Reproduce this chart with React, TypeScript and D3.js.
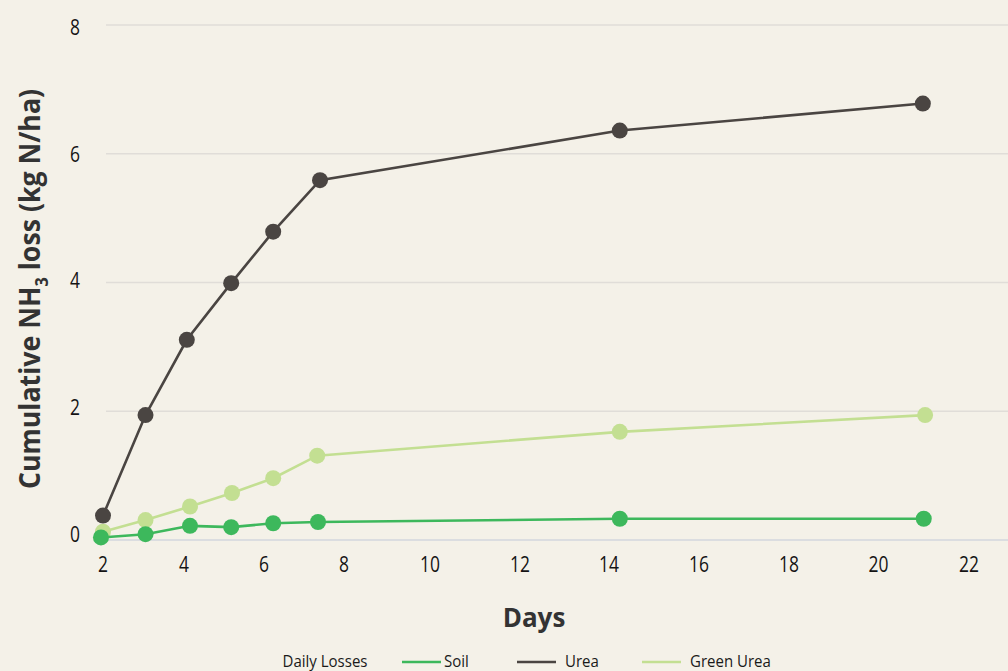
import React from "react";
import * as d3 from "d3";

const xTicks = [2, 4, 6, 8, 10, 12, 14, 16, 18, 20, 22];
const yTicks = [0, 2, 4, 6, 8];

const soilDays = [1.95, 3.05, 4.15, 5.18, 6.23, 7.35, 14.24, 21.0];
const soilLoss = [0.04, 0.09, 0.22, 0.2, 0.26, 0.28, 0.33, 0.33];

const ureaDays = [2.0, 3.05, 4.07, 5.18, 6.23, 7.4, 14.24, 20.98];
const ureaLoss = [0.38, 1.94, 3.11, 3.99, 4.79, 5.59, 6.36, 6.78];

const greenDays = [2.0, 3.05, 4.15, 5.2, 6.23, 7.33, 14.24, 21.03];
const greenLoss = [0.13, 0.31, 0.52, 0.73, 0.96, 1.31, 1.68, 1.94];

const seriesNames = ["Soil", "Urea", "Green Urea"];
const seriesColors = ["#3db85c", "#4a4542", "#c3df92"];

const W = 1008;
const H = 671;
const FONT = "'Open Sans', 'Noto Sans', sans-serif";

export default function App() {
  // axis positions of the reference are slightly uneven, so use a polylinear scale
  const x = d3
    .scaleLinear()
    .domain(xTicks)
    .range([103, 184, 264, 344, 430, 520, 609, 699, 789, 878.5, 969]);
  const y = d3.scaleLinear().domain([0, 8]).range([540, 25]);
  const yLabel = d3.scaleLinear().domain([0, 8]).range([541.5, 35]);

  const series = [
    { name: seriesNames[0], color: seriesColors[0], days: soilDays, vals: soilLoss },
    { name: seriesNames[1], color: seriesColors[1], days: ureaDays, vals: ureaLoss },
    { name: seriesNames[2], color: seriesColors[2], days: greenDays, vals: greenLoss },
  ];
  const drawOrder = [2, 0, 1];

  const line = d3
    .line<[number, number]>()
    .x((d) => x(d[0]))
    .y((d) => y(d[1]));

  const legendItems = [
    { i: 0, lx: 402, tx: 444 },
    { i: 1, lx: 517, tx: 565 },
    { i: 2, lx: 642, tx: 690 },
  ];
  const SQ = 0.83;

  return (
    <div style={{ position: "absolute", left: 0, top: 0 }}>
      <svg width={W} height={H} style={{ display: "block" }} fontFamily={FONT}>
        <rect x={0} y={0} width={W} height={H} fill="#f4f1e8" />
        {/* gridlines */}
        {yTicks.map((t) => (
          <line
            key={t}
            x1={106}
            x2={W}
            y1={y(t)}
            y2={y(t)}
            stroke={t === 0 ? "#d3d6de" : "#e0ddd8"}
            strokeWidth={1.5}
          />
        ))}
        {/* y tick labels */}
        {yTicks.map((t) => (
          <text
            key={t}
            transform={`translate(75,${yLabel(t)}) scale(${SQ},1)`}
            textAnchor="middle"
            fontSize={21}
            fill="#141414"
          >
            {t}
          </text>
        ))}
        {/* x tick labels */}
        {xTicks.map((t) => (
          <text
            key={t}
            transform={`translate(${x(t)},572) scale(${SQ},1)`}
            textAnchor="middle"
            fontSize={21}
            fill="#141414"
          >
            {t}
          </text>
        ))}
        {/* series */}
        {drawOrder.map((si) => {
          const s = series[si];
          const pts = s.days.map((d, i) => [d, s.vals[i]] as [number, number]);
          return (
            <g key={s.name}>
              <path d={line(pts) || ""} fill="none" stroke={s.color} strokeWidth={2.6} />
              {pts.map((p, i) => (
                <circle key={i} cx={x(p[0])} cy={y(p[1])} r={8} fill={s.color} />
              ))}
            </g>
          );
        })}
        {/* axis titles */}
        <text
          x={534}
          y={627}
          textAnchor="middle"
          fontSize={26}
          fontWeight="bold"
          fill="#333333"
        >
          Days
        </text>
        <text
          transform="translate(40,289) rotate(-90) scale(0.955,1)"
          textAnchor="middle"
          fontSize={28}
          fontWeight="bold"
          fill="#333333"
        >
          Cumulative NH
          <tspan fontSize={17} dy={8}>3</tspan>
          <tspan dy={-8}> loss (kg N/ha)</tspan>
        </text>
        {/* legend */}
        <text
          transform={`translate(282.5,666.5) scale(0.91,1)`}
          fontSize={16.5}
          fill="#1a1a1a"
        >
          Daily Losses
        </text>
        {legendItems.map((it) => (
          <g key={it.i}>
            <line
              x1={it.lx}
              x2={it.lx + 39}
              y1={662}
              y2={662}
              stroke={seriesColors[it.i]}
              strokeWidth={2.6}
            />
            <text
              transform={`translate(${it.tx},666.5) scale(0.91,1)`}
              fontSize={16.5}
              fill="#1a1a1a"
            >
              {seriesNames[it.i]}
            </text>
          </g>
        ))}
      </svg>
    </div>
  );
}
